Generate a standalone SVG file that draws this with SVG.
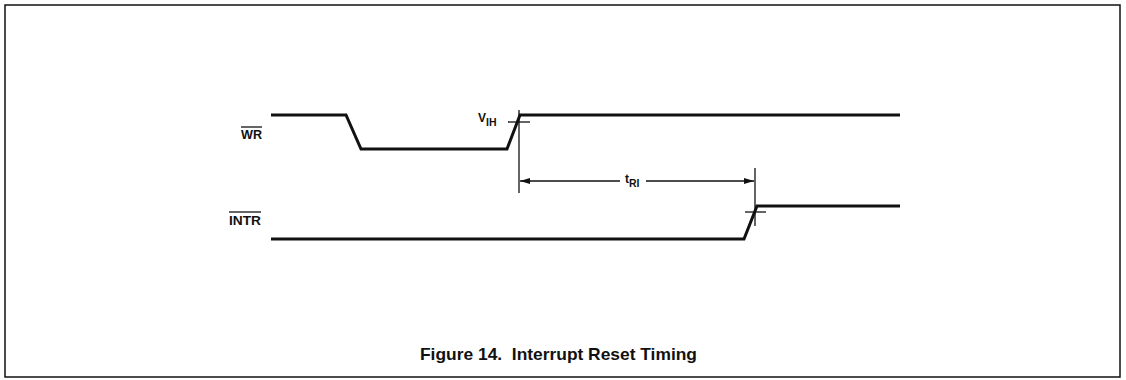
<svg xmlns="http://www.w3.org/2000/svg" width="1126" height="380" viewBox="0 0 1126 380">
<style>
.sig{fill:none;stroke:#111;stroke-width:3;stroke-linejoin:miter}
.thin{fill:none;stroke:#111;stroke-width:1.3}
.lbl{font-family:"Liberation Sans",Arial,sans-serif;font-size:12px;font-weight:bold;fill:#111}
.sub{font-size:10.5px}
.cap{font-family:"Liberation Sans",Arial,sans-serif;font-size:17px;font-weight:bold;fill:#111}
</style>
<defs>
<marker id="ah" viewBox="0 0 10 6" refX="10" refY="3" markerWidth="10" markerHeight="6" markerUnits="userSpaceOnUse" orient="auto-start-reverse">
<path d="M0,0 L10,3 L0,6 Z" fill="#111"/>
</marker>
</defs>
<rect x="5" y="5" width="1115" height="372" fill="#fff" stroke="#111" stroke-width="1.5"/>
<g id="wr">
<text class="lbl" x="241" y="139" textLength="21" lengthAdjust="spacingAndGlyphs">WR</text>
<line class="thin" x1="241" y1="127" x2="262" y2="127"/>
<path class="sig" d="M271,115 H346 L361,149 H507 L520,115 H900"/>
</g>
<g id="intr">
<text class="lbl" x="229" y="225" textLength="32" lengthAdjust="spacingAndGlyphs">INTR</text>
<line class="thin" x1="229" y1="212" x2="261" y2="212"/>
<path class="sig" d="M271,239 H744 L757,206 H900"/>
</g>
<g id="vih">
<text class="lbl" x="478" y="122">V<tspan class="sub" dy="4">IH</tspan></text>
<line class="thin" x1="508" y1="122" x2="530" y2="122"/>
</g>
<g id="connectors">
<line class="thin" x1="519" y1="110" x2="519" y2="193"/>
<line class="thin" x1="755" y1="168" x2="755" y2="226"/>
<line class="thin" x1="745" y1="212" x2="766" y2="212"/>
<line class="thin" x1="520" y1="181" x2="620" y2="181" marker-start="url(#ah)"/>
<line class="thin" x1="646" y1="181" x2="754" y2="181" marker-end="url(#ah)"/>
<text class="lbl" x="625" y="183">t<tspan class="sub" dy="4">RI</tspan></text>
</g>
<text class="cap" x="420" y="360" textLength="277" lengthAdjust="spacingAndGlyphs">Figure 14.&#160; Interrupt Reset Timing</text>
</svg>
